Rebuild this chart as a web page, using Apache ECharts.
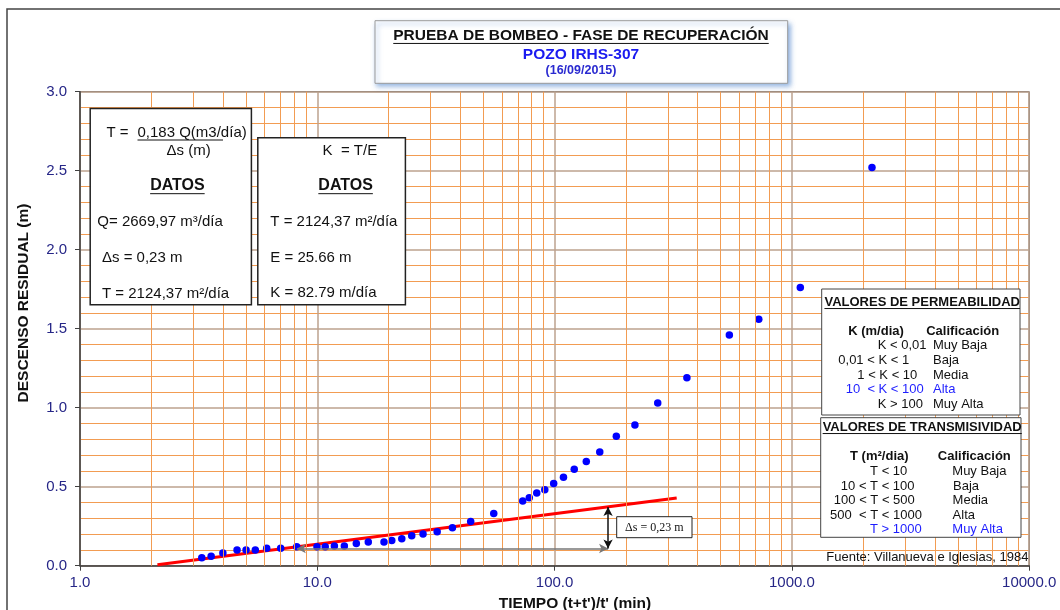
<!DOCTYPE html>
<html>
<head>
<meta charset="utf-8">
<script src="https://cdn.jsdelivr.net/npm/echarts@6/dist/echarts.min.js"></script>
<style>
  html, body { margin: 0; padding: 0; background: #fff; }
  #main { width: 1060px; height: 610px; }
</style>
</head>
<body>
<div id="main"></div>
<script>
// tiempo (t+t')/t' en minutos, descenso residual en metros
const tiempo = [3.26, 3.57, 4.0, 4.59, 5.01, 5.48, 6.12, 7.01, 8.19, 9.97, 10.8,
  11.8, 13.0, 14.6, 16.4, 19.1, 20.6, 22.7, 25.0, 27.9, 32.0,
  37.1, 44.3, 55.4, 73.4, 78.2, 84.1, 90.9, 99.1, 109, 121,
  136, 155, 182, 218, 272, 361, 545, 725, 1085, 2175];
const descenso = [0.05, 0.06, 0.08, 0.10, 0.10, 0.10, 0.11, 0.11, 0.12, 0.12, 0.12,
  0.125, 0.125, 0.14, 0.15, 0.15, 0.16, 0.17, 0.19, 0.20, 0.215,
  0.24, 0.28, 0.33, 0.41, 0.43, 0.46, 0.48, 0.52, 0.56, 0.61,
  0.66, 0.72, 0.82, 0.89, 1.03, 1.19, 1.46, 1.56, 1.76, 2.52];

// recta de ajuste (dos extremos)
const ajusteT = [2.12, 327];
const ajusteS = [0.006, 0.428];

// flechas de Δs
const deltaT = [8.2, 168];
const deltaS = [0.109, 0.372];

const xTicks = [1, 10, 100, 1000, 10000];

const FF = '"Liberation Sans", Arial, sans-serif';
const minorColor = '#F29C52';
const majorColor = '#BCA28E';
const labelColor = '#262687';

// lineas verticales secundarias 2..9 de cada decada
const minorX = [];
for (let d = 0; d < xTicks.length - 1; d++) {
  for (let k = 2; k <= 9; k++) minorX.push(k * xTicks[d]);
}

const ctx = document.createElement('canvas').getContext('2d');
function textW(s, size, bold) {
  ctx.font = (bold ? 'bold ' : '') + size + 'px ' + FF;
  return ctx.measureText(s).width;
}

function txt(x, y, s, opt) {
  return {
    type: 'text', z: 120, silent: true,
    style: Object.assign({
      x: x, y: y, text: s, fill: '#111', fontSize: 13, fontFamily: FF,
      align: 'left', verticalAlign: 'middle'
    }, opt || {})
  };
}
function uline(x1, x2, y, color) {
  return {
    type: 'line', z: 120, silent: true,
    shape: {x1: x1, y1: y, x2: x2, y2: y},
    style: {stroke: color || '#111', lineWidth: 1}
  };
}
// texto centrado y subrayado
function utxt(cx, y, s, size, color) {
  const w = textW(s, size, true);
  return [
    txt(cx, y, s, {align: 'center', fontSize: size, fontWeight: 'bold', fill: color || '#111'}),
    uline(cx - w / 2, cx + w / 2, y + size * 0.48, color)
  ];
}
function box(x, y, w, h, opt) {
  return {
    type: 'rect', z: 110, silent: true,
    shape: {x: x, y: y, width: w, height: h},
    style: Object.assign({fill: '#fff', stroke: '#222', lineWidth: 1.5}, opt || {})
  };
}

// titulo vertical del eje Y
const yTitle = txt(0, 0, 'DESCENSO RESIDUAL (m)', {align: 'center', fontSize: 15.5, fontWeight: 'bold'});
yTitle.x = 23.5;
yTitle.y = 303;
yTitle.rotation = Math.PI / 2;

const blue = '#1E1EFF';
const graphics = [
  // marco exterior
  {type: 'rect', z: 0, silent: true, shape: {x: 7, y: 9, width: 1200, height: 1000},
    style: {fill: 'none', stroke: '#444', lineWidth: 1.5}},
  // titulo
  box(375, 20.7, 412.7, 62.6, {stroke: '#9A9A9A', lineWidth: 1,
    shadowColor: 'rgba(60,120,200,0.6)', shadowBlur: 5, shadowOffsetX: 2, shadowOffsetY: 3}),
  ...utxt(581, 36, 'PRUEBA DE BOMBEO - FASE DE RECUPERACIÓN', 15.5),
  txt(581, 54.3, 'POZO IRHS-307', {align: 'center', fontSize: 15.5, fontWeight: 'bold', fill: '#1A1AF0'}),
  txt(581, 70.8, '(16/09/2015)', {align: 'center', fontSize: 12.5, fontWeight: 'bold', fill: '#2A2AD0'}),

  // titulos de ejes
  yTitle,
  txt(575, 603.3, "TIEMPO (t+t')/t' (min)", {align: 'center', fontSize: 15.5, fontWeight: 'bold'}),

  // cuadro 1
  box(90.2, 108.5, 161.2, 196.2),
  txt(106.4, 132.7, 'T =', {fontSize: 15}),
  txt(137.5, 132.7, '0,183 Q(m3/día)', {fontSize: 15}),
  uline(137.5, 223, 140),
  txt(166.6, 151, 'Δs (m)', {fontSize: 15}),
  ...utxt(177.4, 186, 'DATOS', 16),
  txt(97.3, 222, 'Q= 2669,97 m³/día', {fontSize: 15}),
  txt(102, 258, 'Δs = 0,23 m', {fontSize: 15}),
  txt(102, 293.7, 'T = 2124,37 m²/día', {fontSize: 15}),

  // cuadro 2
  box(257.8, 137.8, 147.6, 166.9),
  txt(322.6, 150.7, 'K  = T/E', {fontSize: 15}),
  ...utxt(345.6, 186, 'DATOS', 16),
  txt(270.3, 222, 'T = 2124,37 m²/día', {fontSize: 15}),
  txt(270.3, 258, 'E = 25.66 m', {fontSize: 15}),
  txt(270.3, 293.3, 'K = 82.79 m/día', {fontSize: 15}),

  // tabla permeabilidad
  box(821.7, 289, 198.3, 126, {stroke: '#444', lineWidth: 1}),
  ...utxt(922.2, 302.3, 'VALORES DE PERMEABILIDAD', 13),
  txt(876, 331.7, 'K (m/dia)', {align: 'center', fontWeight: 'bold'}),
  txt(962.7, 331.7, 'Calificación', {align: 'center', fontWeight: 'bold'}),
  txt(877.7, 345.7, 'K < 0,01'), txt(933, 345.7, 'Muy Baja'),
  txt(838.3, 360.7, '0,01 < K < 1'), txt(933, 360.7, 'Baja'),
  txt(857.3, 375, '1 < K < 10'), txt(933, 375, 'Media'),
  txt(845.7, 389.3, '10  < K < 100', {fill: blue}), txt(933, 389.3, 'Alta', {fill: blue}),
  txt(877.7, 404, 'K > 100'), txt(933, 404, 'Muy Alta'),

  // tabla transmisividad
  box(820.7, 417.7, 200.3, 119.6, {stroke: '#444', lineWidth: 1}),
  ...utxt(922.2, 427.3, 'VALORES DE TRANSMISIVIDAD', 13),
  txt(879.3, 456.7, 'T (m²/dia)', {align: 'center', fontWeight: 'bold'}),
  txt(974.3, 456.7, 'Calificación', {align: 'center', fontWeight: 'bold'}),
  txt(888.7, 471, 'T < 10', {align: 'center'}), txt(952.3, 471, 'Muy Baja'),
  txt(877.7, 486, '10 < T < 100', {align: 'center'}), txt(953, 486, 'Baja'),
  txt(874.3, 500.3, '100 < T < 500', {align: 'center'}), txt(952.6, 500.3, 'Media'),
  txt(876, 515.3, '500  < T < 1000', {align: 'center'}), txt(952.6, 515.3, 'Alta'),
  txt(895.8, 529.3, 'T > 1000', {align: 'center', fill: blue}), txt(952.3, 529.3, 'Muy Alta', {fill: blue}),

  txt(927.4, 557.3, 'Fuente: Villanueva e Iglesias, 1984', {align: 'center'}),

  // etiqueta Δs
  box(616.7, 516.7, 75.3, 21, {stroke: '#222', lineWidth: 1}),
  txt(654.3, 527.5, 'Δs = 0,23 m', {align: 'center', fontSize: 12,
    fontFamily: '"Liberation Serif", "Times New Roman", serif'})
];

const chart = echarts.init(document.getElementById('main'));
chart.setOption({
  animation: false,
  backgroundColor: '#fff',
  grid: {
    left: 80, right: 30.8, top: 91.7, bottom: 44.3,
    show: true, borderColor: '#333', borderWidth: 1, backgroundColor: '#fff'
  },
  xAxis: {
    type: 'log', logBase: 10, min: 1, max: 10000,
    axisLine: {lineStyle: {color: '#404040', width: 1.5}},
    axisTick: {show: true, length: 5, lineStyle: {color: '#404040'}},
    axisLabel: {color: labelColor, fontFamily: FF, fontSize: 15, margin: 10,
      formatter: v => Number(v).toFixed(1)},
    splitLine: {show: true, lineStyle: {color: majorColor, width: 1.5}}
  },
  yAxis: {
    type: 'value', min: 0, max: 3, interval: 0.5,
    axisLine: {show: true, lineStyle: {color: '#404040', width: 1.5}},
    axisTick: {show: true, length: 5, lineStyle: {color: '#404040'}},
    axisLabel: {color: labelColor, fontFamily: FF, fontSize: 15, margin: 13,
      formatter: v => v.toFixed(1)},
    splitLine: {show: true, lineStyle: {color: majorColor, width: 1.5}},
    minorTick: {show: false, splitNumber: 5},
    minorSplitLine: {show: true, lineStyle: {color: minorColor, width: 1}}
  },
  graphic: graphics,
  series: [
    {
      name: 'rejilla',
      type: 'line',
      data: [],
      z: 1,
      silent: true,
      markLine: {
        silent: true,
        symbol: 'none',
        label: {show: false},
        lineStyle: {color: minorColor, width: 1, type: 'solid'},
        emphasis: {disabled: true},
        data: minorX.map(v => ({xAxis: v}))
      }
    },
    {
      name: 'ajuste',
      type: 'line',
      data: ajusteT.map((t, i) => [t, ajusteS[i]]),
      symbol: 'none',
      z: 3,
      lineStyle: {color: '#FF0000', width: 3},
      markLine: {
        silent: true,
        symbol: ['arrow', 'arrow'],
        symbolSize: [7, 9],
        label: {show: false},
        emphasis: {disabled: true},
        data: [
          [{coord: [deltaT[0], deltaS[0]], lineStyle: {color: '#777', width: 1.5, type: 'solid'}},
           {coord: [deltaT[1], deltaS[0]]}],
          [{coord: [deltaT[1], deltaS[0]], lineStyle: {color: '#111', width: 1.5, type: 'solid'}},
           {coord: [deltaT[1], deltaS[1]]}]
        ]
      }
    },
    {
      name: 'descenso',
      type: 'scatter',
      data: tiempo.map((t, i) => [t, descenso[i]]),
      symbol: 'circle',
      symbolSize: 7.5,
      z: 4,
      itemStyle: {color: '#0000FF', opacity: 1}
    }
  ]
});
</script>
</body>
</html>
